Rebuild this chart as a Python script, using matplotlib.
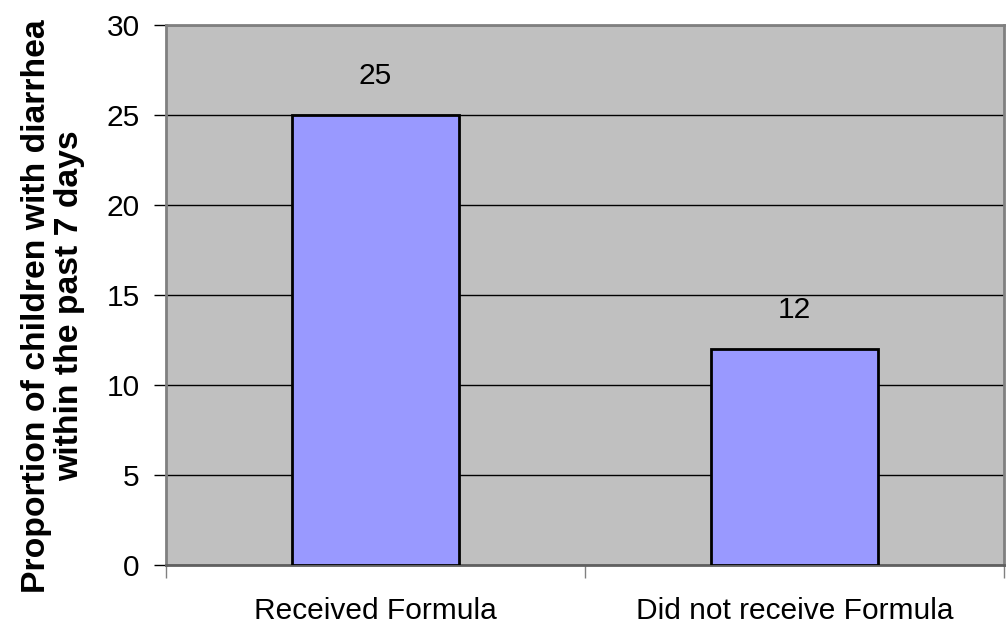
import matplotlib
matplotlib.use("Agg")
import matplotlib.pyplot as plt

categories = ["Received Formula", "Did not receive Formula"]
values = [25, 12]
yticks = [0, 5, 10, 15, 20, 25, 30]
ylabel = "Proportion of children with diarrhea\nwithin the past 7 days"

plt.rcParams['font.family'] = ['Liberation Sans', 'DejaVu Sans']

fig = plt.figure(figsize=(10.08, 6.28), dpi=100)
ax = fig.add_axes([166/1008, 1-565/628, (1004-166)/1008, (565-25)/628])
ax.set_facecolor('#C0C0C0')

centers = [i + 0.5 for i in range(len(categories))]
bars = ax.bar(centers, values, width=0.4, color='#9999FF', edgecolor='black', linewidth=2, zorder=3)
for x, v in zip(centers, values):
    ax.annotate(str(v), (x, v), xytext=(0, 22), textcoords='offset points',
                ha='center', va='baseline', fontsize=21.5, zorder=4)

ax.set_xlim(0, len(categories))
ax.set_ylim(0, 30)
ax.set_yticks(yticks)
ax.set_yticklabels([str(t) for t in yticks], fontsize=21.5)
ax.yaxis.grid(True, color='black', linewidth=1, zorder=1)
ax.set_axisbelow(True)

ax.set_xticks(range(len(categories) + 1))
ax.set_xticklabels([])
ax.set_xticks(centers, minor=True)
ax.set_xticklabels(categories, minor=True, fontsize=21.5)
ax.tick_params(axis='x', which='minor', length=0, pad=23)
ax.tick_params(axis='x', which='major', length=9, width=1, color='#808080', direction='out')
ax.tick_params(axis='y', length=9, width=1, color='black', direction='out', pad=10)

for s in ax.spines.values():
    s.set_color('#808080')
    s.set_linewidth(2)
ax.spines['bottom'].set_color('#606060')

ax.set_ylabel(ylabel, fontsize=24.3, fontweight='bold', linespacing=1.1)
ax.yaxis.set_label_coords(-0.096, 0.48)

fig.savefig("out.png", dpi=100)
